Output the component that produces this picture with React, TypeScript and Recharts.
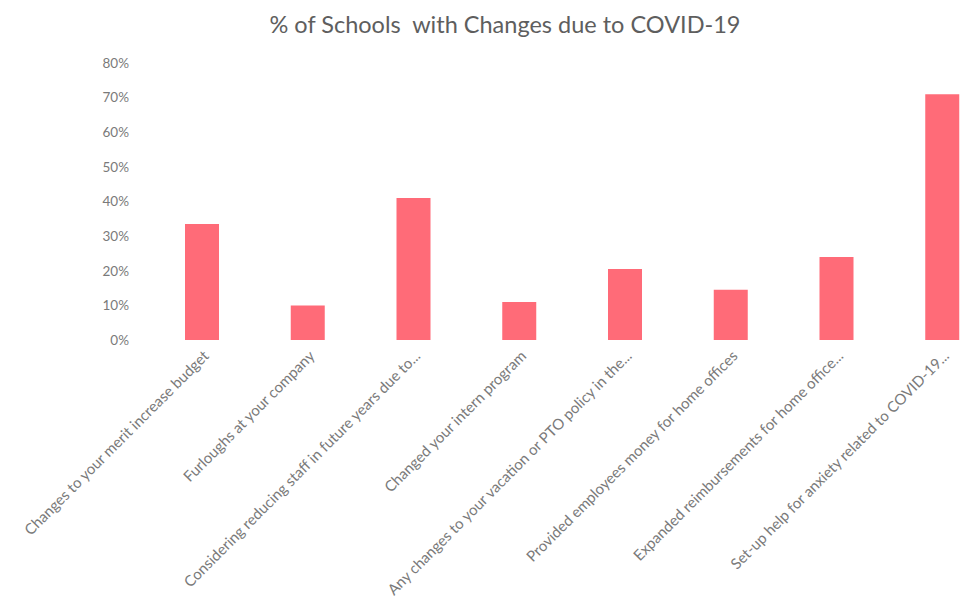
import React from 'react';
import { BarChart, Bar, XAxis, YAxis } from 'recharts';

const categories = [
  'Changes to your merit increase budget',
  'Furloughs at your company',
  'Considering reducing staff in future years due to...',
  'Changed your intern program',
  'Any changes to your vacation or PTO policy in the...',
  'Provided employees money for home offices',
  'Expanded reimbursements for home office...',
  'Set-up help for anxiety related to COVID-19...',
];
const values = [0.335, 0.1, 0.41, 0.11, 0.205, 0.145, 0.24, 0.71];
const yTicks = [0, 0.1, 0.2, 0.3, 0.4, 0.5, 0.6, 0.7, 0.8];
const title = '% of Schools  with Changes due to COVID-19';

const data = categories.map((name, i) => ({ name, value: values[i] }));

const FONT = 'Lato, "Open Sans", sans-serif';

const XTick = (props: any) => {
  const { x, y, payload } = props;
  const tx = x + 8;
  const ty = y + 17;
  return (
    <text
      x={tx}
      y={ty}
      transform={`rotate(-45 ${tx} ${ty})`}
      textAnchor="end"
      fill="#7a7a7a"
      fontSize={15}
      fontFamily={FONT}
    >
      {payload.value}
    </text>
  );
};

export default function App() {
  return (
    <div
      style={{
        position: 'absolute',
        left: 0,
        top: 0,
        width: 961,
        height: 609,
        overflow: 'hidden',
        background: '#fff',
      }}
    >
      <div
        style={{
          position: 'absolute',
          left: 505,
          top: 10,
          transform: 'translateX(-50%)',
          whiteSpace: 'pre',
          fontFamily: FONT,
          fontSize: 23.5,
          color: '#5e5e5e',
        }}
      >
        {title}
      </div>
      <div style={{ position: 'absolute', left: 0, top: 0 }}>
        <BarChart
          width={995}
          height={609}
          data={data}
          margin={{ top: 63, right: 0, bottom: 0, left: 0 }}
        >
          <YAxis
            width={149}
            domain={[0, 0.8]}
            ticks={yTicks}
            tickFormatter={(v: number) => `${Math.round(v * 100)}%`}
            axisLine={false}
            tickLine={false}
            tickSize={0}
            tickMargin={20}
            tick={{ fill: '#7a7a7a', fontSize: 13.5, fontFamily: FONT }}
            interval={0}
          />
          <XAxis
            dataKey="name"
            height={269}
            axisLine={false}
            tickLine={false}
            tickSize={0}
            tickMargin={0}
            interval={0}
            tick={<XTick />}
          />
          <Bar dataKey="value" fill="#ff6b78" barSize={34} isAnimationActive={false} />
        </BarChart>
      </div>
    </div>
  );
}
